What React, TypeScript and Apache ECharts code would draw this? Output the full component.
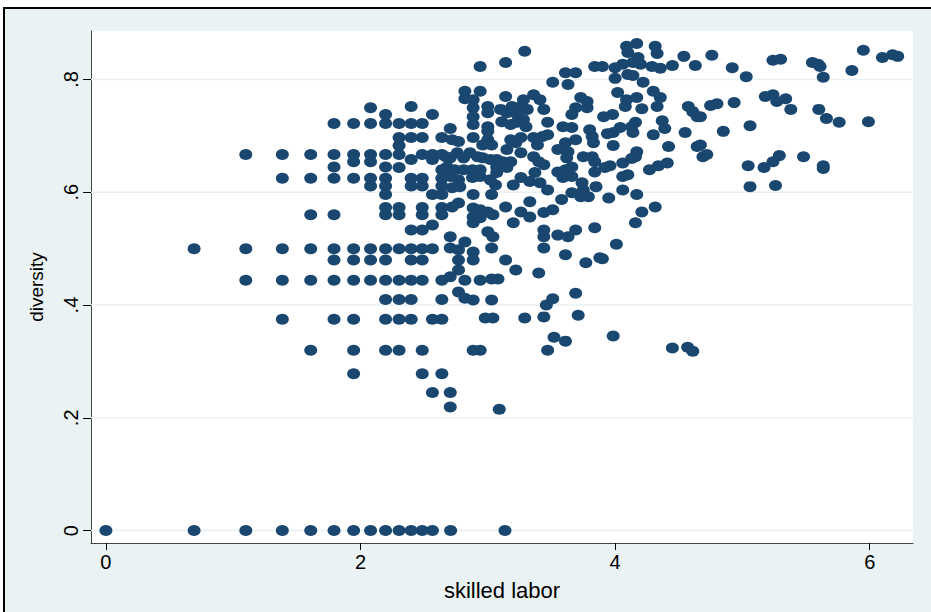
import React, { useEffect, useRef } from "react";
import * as echarts from "echarts";

const W = 931;
const H = 612;

const X_MIN = -0.117;
const X_MAX = 6.34;
const Y_MIN = -0.022;
const Y_MAX = 0.886;

const xTickValues = [0, 2, 4, 6];
const xTickLabels = ["0", "2", "4", "6"];
const yTickValues = [0, 0.2, 0.4, 0.6, 0.8];
const yTickLabels = ["0", ".2", ".4", ".6", ".8"];

// observations with diversity = 0
const atZero: number[][] = [
  [0, 0], [0.693, 0], [1.099, 0], [1.386, 0], [1.609, 0], [1.792, 0], [1.946, 0],
  [2.079, 0], [2.197, 0], [2.303, 0], [2.398, 0], [2.485, 0], [2.565, 0], [2.708, 0], [3.135, 0],
];

// low skilled-labor columns (discrete counts)
const discreteLeft: number[][] = [
  [0.693, 0.5],
  [1.099, 0.667], [1.099, 0.5], [1.099, 0.444],
  [1.386, 0.667], [1.386, 0.625], [1.386, 0.5], [1.386, 0.444], [1.386, 0.375],
  [1.609, 0.667], [1.609, 0.625], [1.609, 0.56], [1.609, 0.5], [1.609, 0.444], [1.609, 0.32],
  [1.792, 0.722], [1.792, 0.667], [1.792, 0.645], [1.792, 0.625], [1.792, 0.56], [1.792, 0.5], [1.792, 0.48], [1.792, 0.444], [1.792, 0.375],
  [1.946, 0.722], [1.946, 0.667], [1.946, 0.654], [1.946, 0.625], [1.946, 0.5], [1.946, 0.48], [1.946, 0.444], [1.946, 0.375], [1.946, 0.32], [1.946, 0.278],
  [2.079, 0.75], [2.079, 0.722], [2.079, 0.667], [2.079, 0.654], [2.079, 0.625], [2.079, 0.611], [2.079, 0.5], [2.079, 0.48], [2.079, 0.444],
  [2.197, 0.738], [2.197, 0.722], [2.197, 0.667], [2.197, 0.645], [2.197, 0.625], [2.197, 0.611], [2.197, 0.596], [2.197, 0.573], [2.197, 0.56], [2.197, 0.5], [2.197, 0.48], [2.197, 0.444], [2.197, 0.41], [2.197, 0.375], [2.197, 0.32],
  [2.303, 0.722], [2.303, 0.697], [2.303, 0.683], [2.303, 0.667], [2.303, 0.644], [2.303, 0.573], [2.303, 0.56], [2.303, 0.5], [2.303, 0.444], [2.303, 0.41], [2.303, 0.375], [2.303, 0.32],
  [2.398, 0.752], [2.398, 0.722], [2.398, 0.697], [2.398, 0.658], [2.398, 0.625], [2.398, 0.611], [2.398, 0.533], [2.398, 0.5], [2.398, 0.48], [2.398, 0.444], [2.398, 0.41], [2.398, 0.375],
  [2.485, 0.722], [2.485, 0.697], [2.485, 0.667], [2.485, 0.625], [2.485, 0.611], [2.485, 0.573], [2.485, 0.56], [2.485, 0.533], [2.485, 0.5], [2.485, 0.48], [2.485, 0.444], [2.485, 0.32], [2.485, 0.278],
  [2.565, 0.738], [2.565, 0.667], [2.565, 0.658], [2.565, 0.596], [2.565, 0.542], [2.565, 0.5], [2.565, 0.375], [2.565, 0.245],
  [2.639, 0.697], [2.639, 0.667], [2.639, 0.64], [2.639, 0.625], [2.639, 0.611], [2.639, 0.596], [2.639, 0.573], [2.639, 0.56], [2.639, 0.444], [2.639, 0.41], [2.639, 0.375], [2.639, 0.278],
];

// dense middle cluster
const centralCluster: number[][] = [
  [2.94, 0.823], [3.14, 0.83], [2.82, 0.779], [2.94, 0.779], [2.82, 0.766], [2.885, 0.764],
  [2.885, 0.75], [2.885, 0.734], [2.885, 0.72], [3.0, 0.752], [3.0, 0.741], [3.0, 0.716], [3.0, 0.708], [3.0, 0.693],
  [3.14, 0.77], [3.1, 0.747], [3.15, 0.741], [3.19, 0.752], [3.11, 0.725], [3.18, 0.72], [3.23, 0.724],
  [2.705, 0.713], [2.72, 0.693], [2.77, 0.69], [2.885, 0.697], [2.96, 0.684], [3.03, 0.684], [3.18, 0.693], [3.22, 0.688], [3.15, 0.676],
  [2.67, 0.663], [2.705, 0.661], [2.76, 0.67], [2.81, 0.661], [2.86, 0.67], [2.92, 0.663], [2.96, 0.661], [3.02, 0.658], [3.07, 0.658], [3.12, 0.654], [3.18, 0.654],
  [2.68, 0.645], [2.74, 0.64], [2.81, 0.64], [2.88, 0.64], [2.94, 0.64], [3.07, 0.645], [3.15, 0.644],
  [2.705, 0.628], [2.77, 0.622], [2.88, 0.626], [2.94, 0.628], [3.02, 0.622], [3.07, 0.635], [3.06, 0.613], [3.2, 0.613], [3.26, 0.626],
  [2.72, 0.608], [2.78, 0.61], [2.885, 0.596], [3.03, 0.596],
  [2.77, 0.581], [2.72, 0.574], [2.885, 0.572], [2.94, 0.569], [3.0, 0.565], [3.04, 0.56], [3.14, 0.574],
  [2.885, 0.556], [2.94, 0.555], [2.885, 0.546], [3.2, 0.546],
  [2.705, 0.521], [2.82, 0.512], [3.0, 0.53], [3.04, 0.521], [3.03, 0.501],
  [2.705, 0.501], [2.77, 0.498], [2.885, 0.494], [2.885, 0.48], [2.77, 0.48], [3.14, 0.48],
  [3.22, 0.462], [2.77, 0.462],
  [2.705, 0.45], [2.82, 0.444], [2.94, 0.444], [3.03, 0.446], [3.08, 0.446],
  [2.77, 0.423], [2.82, 0.412], [2.885, 0.409], [3.03, 0.409], [2.98, 0.377], [3.04, 0.377],
  [3.29, 0.377], [3.44, 0.379], [3.46, 0.4], [3.51, 0.411], [3.69, 0.421], [3.71, 0.382], [3.52, 0.343], [3.61, 0.336], [3.985, 0.345],
  [2.885, 0.32], [2.94, 0.32], [3.47, 0.32], [2.705, 0.245], [2.705, 0.219], [3.09, 0.215],
  [3.29, 0.85], [3.84, 0.823], [3.61, 0.812], [3.69, 0.812], [3.51, 0.795], [3.63, 0.791],
  [3.28, 0.764], [3.36, 0.773], [3.41, 0.764], [3.26, 0.752], [3.31, 0.747], [3.44, 0.747],
  [3.23, 0.738], [3.28, 0.729], [3.3, 0.716], [3.47, 0.724],
  [3.73, 0.768], [3.78, 0.761], [3.69, 0.75], [3.78, 0.75], [3.66, 0.738],
  [3.59, 0.716], [3.66, 0.715], [3.8, 0.711], [3.82, 0.699], [3.83, 0.688],
  [3.26, 0.697], [3.36, 0.697], [3.43, 0.699], [3.47, 0.702], [3.39, 0.684],
  [3.55, 0.676], [3.61, 0.688], [3.63, 0.672], [3.62, 0.661], [3.69, 0.693],
  [3.75, 0.663], [3.82, 0.663], [3.84, 0.654],
  [3.26, 0.67], [3.36, 0.663], [3.4, 0.654], [3.44, 0.649],
  [3.55, 0.636], [3.61, 0.64], [3.66, 0.645], [3.59, 0.626], [3.66, 0.628], [3.84, 0.636],
  [3.33, 0.619], [3.37, 0.635], [3.41, 0.617], [3.47, 0.604],
  [3.74, 0.617], [3.75, 0.604], [3.79, 0.592], [3.73, 0.592], [3.66, 0.599], [3.85, 0.61],
  [3.33, 0.583], [3.58, 0.587], [3.51, 0.569], [3.44, 0.564], [3.26, 0.565], [3.33, 0.556],
  [3.44, 0.533], [3.44, 0.521], [3.44, 0.501], [3.55, 0.524], [3.63, 0.521], [3.69, 0.533], [3.84, 0.537],
  [3.61, 0.489], [3.77, 0.475], [3.88, 0.484], [3.4, 0.457],
];

// high skilled-labor observations
const upperRight: number[][] = [
  [4.09, 0.859], [4.17, 0.864], [4.1, 0.848], [4.315, 0.859], [4.33, 0.846],
  [4.18, 0.839], [4.2, 0.827], [4.14, 0.83], [4.06, 0.827], [4.0, 0.821], [3.9, 0.823],
  [4.29, 0.823], [4.355, 0.82], [4.45, 0.825], [4.54, 0.841], [4.63, 0.825],
  [4.0, 0.802], [4.1, 0.809], [4.14, 0.807], [4.22, 0.795],
  [4.3, 0.779], [4.355, 0.768], [4.33, 0.752],
  [4.02, 0.777], [4.09, 0.764], [4.17, 0.768], [4.08, 0.752], [4.21, 0.748],
  [4.575, 0.752], [4.61, 0.743], [4.645, 0.734], [4.67, 0.734],
  [3.91, 0.734], [3.98, 0.738], [4.37, 0.727], [4.39, 0.713],
  [4.16, 0.724], [4.13, 0.716], [4.14, 0.706], [4.04, 0.715], [3.985, 0.706], [3.94, 0.704],
  [4.3, 0.702], [4.55, 0.706], [3.985, 0.683], [4.42, 0.681], [4.645, 0.681], [4.67, 0.684],
  [4.69, 0.663], [4.72, 0.667], [4.17, 0.672], [4.16, 0.663], [4.13, 0.66],
  [4.06, 0.652], [3.96, 0.647], [3.92, 0.644], [4.41, 0.652], [4.34, 0.647], [4.27, 0.64],
  [4.1, 0.631], [4.06, 0.628], [4.06, 0.604], [3.95, 0.59], [4.17, 0.596],
  [4.315, 0.574], [4.21, 0.565], [4.16, 0.546], [4.01, 0.508], [3.9, 0.482],
  [4.45, 0.324], [4.57, 0.325], [4.61, 0.318],
  [4.76, 0.843], [4.92, 0.821], [5.03, 0.805], [5.24, 0.834], [5.3, 0.836],
  [5.55, 0.83], [5.595, 0.827], [5.61, 0.823], [5.635, 0.804], [5.86, 0.816],
  [5.95, 0.852], [6.1, 0.839], [6.18, 0.844], [6.22, 0.841],
  [4.75, 0.754], [4.8, 0.757], [4.935, 0.759], [5.18, 0.77], [5.24, 0.773], [5.27, 0.761], [5.34, 0.766], [5.38, 0.747],
  [5.6, 0.747], [5.66, 0.731], [5.76, 0.724], [5.99, 0.725], [5.06, 0.718], [4.85, 0.708],
  [5.045, 0.647], [5.06, 0.61], [5.17, 0.644], [5.24, 0.654], [5.29, 0.665], [5.48, 0.663],
  [5.635, 0.647], [5.635, 0.642], [5.26, 0.612],
];

const FONT = "'Liberation Sans', Arial, sans-serif";

export default function App() {
  const ref = useRef<HTMLDivElement>(null);

  useEffect(() => {
    if (!ref.current) return;
    const chart = echarts.init(ref.current, null, { renderer: "svg" });

    const points = [...atZero, ...discreteLeft, ...centralCluster, ...upperRight];

    const gridSeries = yTickValues.map((v) => ({
      type: "line",
      data: [
        [X_MIN, v],
        [X_MAX, v],
      ],
      symbol: "none",
      silent: true,
      z: 1,
      lineStyle: { color: "#e8f0f2", width: 1.5 },
      tooltip: { show: false },
    }));

    chart.setOption({
      animation: false,
      backgroundColor: "transparent",
      grid: {
        left: 91,
        right: 18,
        top: 31,
        bottom: 69,
        show: true,
        backgroundColor: "#ffffff",
        borderWidth: 0,
      },
      xAxis: {
        type: "value",
        min: X_MIN,
        max: X_MAX,
        name: "skilled labor",
        nameLocation: "middle",
        nameGap: 36,
        nameTextStyle: { fontFamily: FONT, fontSize: 22, color: "#000" },
        axisLine: { show: true, onZero: false, lineStyle: { color: "#444", width: 1 } },
        axisTick: { show: true, length: 7, customValues: xTickValues, lineStyle: { color: "#000", width: 1 } },
        axisLabel: {
          customValues: xTickValues,
          margin: 9,
          fontFamily: FONT,
          fontSize: 20,
          color: "#000",
          formatter: (v: number) => {
            const i = xTickValues.indexOf(v);
            return i >= 0 ? xTickLabels[i] : "";
          },
        },
        splitLine: { show: false },
      },
      yAxis: {
        type: "value",
        min: Y_MIN,
        max: Y_MAX,
        name: "diversity",
        nameLocation: "middle",
        nameGap: 45,
        nameTextStyle: { fontFamily: FONT, fontSize: 19, color: "#000" },
        axisLine: { show: true, onZero: false, lineStyle: { color: "#444", width: 1 } },
        axisTick: { show: true, length: 8, customValues: yTickValues, lineStyle: { color: "#000", width: 1 } },
        axisLabel: {
          customValues: yTickValues,
          rotate: 90,
          margin: 10,
          fontFamily: FONT,
          fontSize: 20,
          color: "#000",
          formatter: (v: number) => {
            const i = yTickValues.indexOf(v);
            return i >= 0 ? yTickLabels[i] : "";
          },
        },
        splitLine: { show: false },
      },
      series: [
        ...gridSeries,
        {
          type: "scatter",
          data: points,
          symbol: "circle",
          symbolSize: [13, 11],
          z: 3,
          itemStyle: { color: "#1a476f", opacity: 1 },
        },
      ],
    });

    return () => chart.dispose();
  }, []);

  return (
    <div
      style={{
        position: "fixed",
        left: 0,
        top: 0,
        width: W,
        height: H,
        background: "#ffffff",
        overflow: "hidden",
      }}
    >
      <div
        style={{
          position: "absolute",
          left: 3,
          top: 7,
          width: W + 20,
          height: H + 20,
          borderTop: "2px solid #000",
          borderLeft: "2px solid #000",
          background: "#eaf2f3",
        }}
      />
      <div ref={ref} style={{ position: "absolute", left: 0, top: 0, width: W, height: H }} />
    </div>
  );
}
